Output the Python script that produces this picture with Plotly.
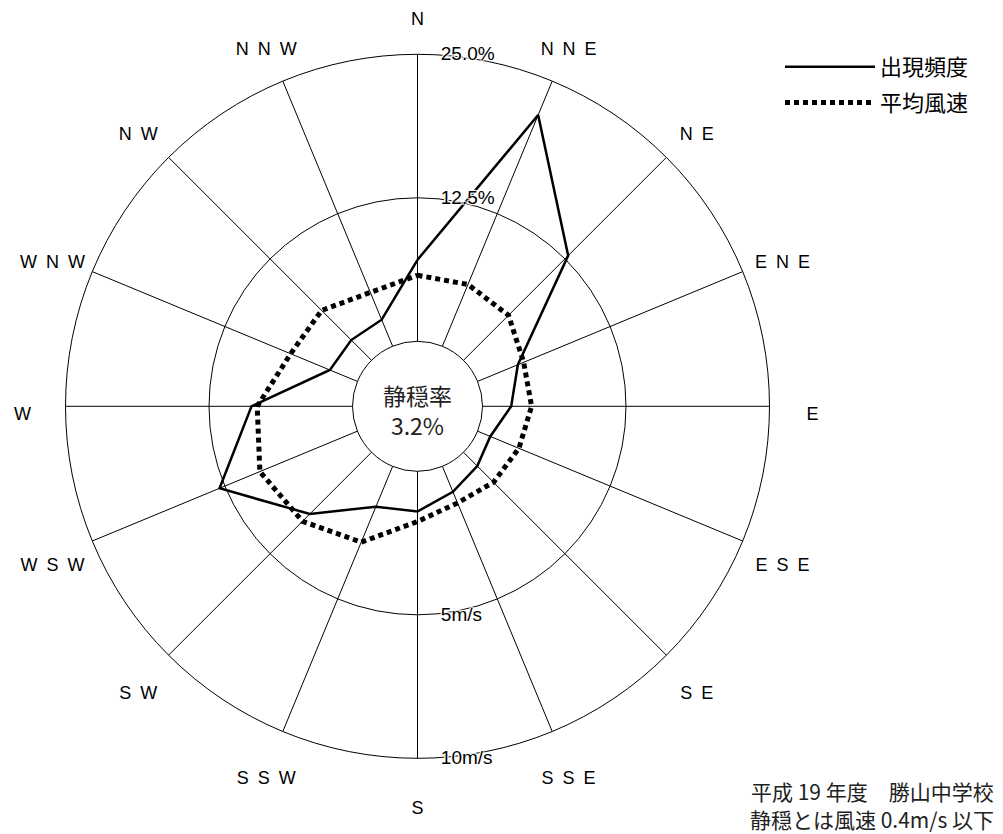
import plotly.graph_objects as go

# ---- data ----
directions = ["N", "NNE", "NE", "ENE", "E", "ESE", "SE", "SSE",
              "S", "SSW", "SW", "WSW", "W", "WNW", "NW", "NNW"]
direction_labels = ["\u2002".join(d) for d in directions]
frequency = [7.1, 21.8, 12.9, 3.8, 2.5, 1.2, 1.7, 2.4,
             3.5, 3.8, 7.6, 13.0, 8.8, 2.6, 2.5, 2.5]          # 出現頻度 (%)
mean_speed = [2.30, 2.33, 2.22, 1.74, 1.71, 1.56, 1.48, 1.38,
              1.75, 2.86, 3.40, 3.68, 3.32, 2.52, 2.46, 2.03]  # 平均風速 (m/s)
calm_rate = 3.2
freq_ticks = [0, 12.5, 25.0]
freq_ticklabels = ["", "12.5%", "25.0%"]
speed_ticks = [5, 10]
speed_ticklabels = ["5m/s", "10m/s"]

# ---- layout geometry (page has an 8px body margin) ----
OFF = 8
W, H = 995, 826


def dom(cx_page, cy_page, radius):
    cx, cy = cx_page - OFF, cy_page - OFF
    return ([(cx - radius) / W, (cx + radius) / W],
            [(H - cy - radius) / H, (H - cy + radius) / H])


def px(x):
    return (x - OFF) / W


def py(y):
    return 1 - (y - OFF) / H


R = 352.0
dom_x, dom_y = dom(417.5, 406.3, R)          # rose
lab_x, lab_y = dom(417.5, 415.0, 395.0)      # ring carrying the direction names
hole = 65.0 / R

LAT = "Liberation Sans, Arial, sans-serif"
CJK = "Noto Sans CJK JP, sans-serif"

fig = go.Figure()

fig.add_trace(go.Scatterpolar(
    r=frequency + frequency[:1], theta=directions + directions[:1],
    mode="lines", name="出現頻度", legendgroup="f",
    line=dict(color="black", width=2.5),
    subplot="polar", showlegend=True,
))
fig.add_trace(go.Scatterpolar(
    r=mean_speed + mean_speed[:1], theta=directions + directions[:1],
    mode="lines", name="平均風速", legendgroup="s",
    line=dict(color="black", width=5, dash="5px,4px"),
    subplot="polar2", showlegend=True,
))
fig.add_trace(go.Scatterpolar(
    r=[1] * len(directions), theta=directions, text=direction_labels,
    mode="text", textposition="middle center",
    textfont=dict(family=LAT, size=18, color="black"),
    cliponaxis=False, hoverinfo="skip", showlegend=False,
    subplot="polar3",
))

angular_common = dict(
    type="category", categoryarray=directions,
    direction="clockwise", rotation=90,
)

fig.update_layout(
    width=W, height=H,
    margin=dict(l=0, r=0, t=0, b=0),
    paper_bgcolor="white",
    plot_bgcolor="white",
    polar=dict(
        domain=dict(x=dom_x, y=dom_y),
        hole=hole,
        bgcolor="white",
        angularaxis=dict(
            **angular_common,
            showticklabels=False, ticks="",
            showline=True, linecolor="black", linewidth=1,
            showgrid=True, gridcolor="black", gridwidth=1,
        ),
        radialaxis=dict(
            range=[0, 25], angle=90, tickangle=90,
            tickmode="array", tickvals=freq_ticks, ticktext=freq_ticklabels,
            tickfont=dict(family=LAT, size=19, color="black", shadow="auto"),
            ticks="outside", ticklen=19, tickcolor="rgba(0,0,0,0)",
            showline=False, showgrid=True, gridcolor="black", gridwidth=1,
        ),
    ),
    polar2=dict(
        domain=dict(x=dom_x, y=dom_y),
        hole=hole,
        bgcolor="rgba(0,0,0,0)",
        angularaxis=dict(
            **angular_common,
            showticklabels=False, ticks="", showline=False, showgrid=False,
        ),
        radialaxis=dict(
            range=[0, 10], angle=270, tickangle=-90, side="counterclockwise",
            tickmode="array", tickvals=speed_ticks, ticktext=speed_ticklabels,
            tickfont=dict(family=LAT, size=19, color="black", shadow="auto"),
            ticks="outside", ticklen=19, tickcolor="rgba(0,0,0,0)",
            showline=False, showgrid=False,
        ),
    ),
    polar3=dict(
        domain=dict(x=lab_x, y=lab_y),
        bgcolor="rgba(0,0,0,0)",
        angularaxis=dict(**angular_common, visible=False),
        radialaxis=dict(range=[0, 1.0001], visible=False),
    ),
    legend=dict(
        x=px(780), y=py(46), xanchor="left", yanchor="top",
        font=dict(family=CJK, size=22, color="black"),
        itemwidth=90, tracegroupgap=4,
        bgcolor="rgba(0,0,0,0)",
    ),
    annotations=[
        dict(
            x=(dom_x[0] + dom_x[1]) / 2, y=(dom_y[0] + dom_y[1]) / 2,
            xref="paper", yref="paper", xanchor="center", yanchor="middle",
            text=f"静穏率<br>{calm_rate}%", showarrow=False, yshift=-4,
            font=dict(family=CJK, size=23, color="#222222"),
        ),
        dict(
            x=px(872), y=py(791), xref="paper", yref="paper",
            xanchor="center", yanchor="middle", showarrow=False,
            text="平成 19 年度　勝山中学校",
            font=dict(family=CJK, size=21, color="#222222"),
        ),
        dict(
            x=px(872), y=py(819), xref="paper", yref="paper",
            xanchor="center", yanchor="middle", showarrow=False,
            text="静穏とは風速 0.4m/s 以下",
            font=dict(family=CJK, size=21, color="#222222"),
        ),
    ],
)

fig.write_html("out.html")
